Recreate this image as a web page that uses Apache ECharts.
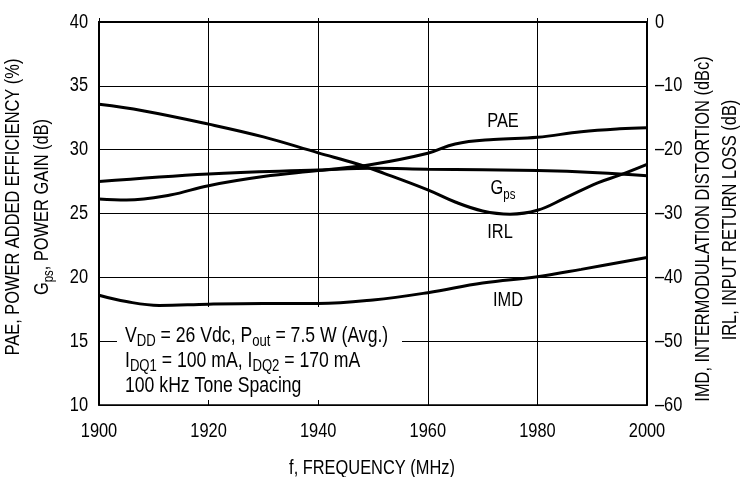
<!DOCTYPE html>
<html>
<head>
<meta charset="utf-8">
<script src="https://cdn.jsdelivr.net/npm/echarts/dist/echarts.min.js"></script>
<style>
html,body{margin:0;padding:0;background:#fff;}
#c{width:744px;height:477px;}
</style>
</head>
<body>
<div id="c"></div>
<script>
// Tick labels
const freqTicks = [1900, 1920, 1940, 1960, 1980, 2000];
const leftTicks = [10, 15, 20, 25, 30, 35, 40];
const rightTicks = [-60, -50, -40, -30, -20, -10, 0];

// PAE, power added efficiency (%) - left axis
const paeFreq = [1900, 1905, 1913, 1920, 1930, 1940, 1950, 1960, 1965, 1972, 1980, 1988, 1995, 2000];
const paeVal  = [26.14, 26.06, 26.45, 27.18, 27.89, 28.36, 28.86, 29.72, 30.45, 30.8, 30.97, 31.41, 31.64, 31.72];

// Gps, power gain (dB) - left axis
const gpsFreq = [1900, 1920, 1940, 1950, 1960, 1980, 1991, 2000];
const gpsVal  = [27.5, 28.1, 28.4, 28.54, 28.47, 28.36, 28.2, 27.96];

// IRL, input return loss (dB) - right axis
const irlFreq = [1900, 1908, 1920, 1930, 1940, 1947, 1952, 1960, 1965, 1970, 1975, 1980, 1985, 1991, 1995, 2000];
const irlVal  = [-12.9, -13.9, -16.0, -18.0, -20.5, -22.2, -23.7, -26.3, -28.2, -29.6, -30.1, -29.5, -27.6, -25.2, -24.0, -22.3];

// IMD, intermodulation distortion (dBc) - right axis
const imdFreq = [1900, 1905, 1911, 1920, 1930, 1940, 1950, 1960, 1970, 1980, 1988, 2000];
const imdVal  = [-42.8, -43.8, -44.4, -44.2, -44.1, -44.1, -43.55, -42.4, -40.9, -39.9, -38.75, -36.9];

const FONT = '"Liberation Sans", Arial, Helvetica, sans-serif';
const FS = 20;
const NARROW = 0.82;

function pairs(xs, ys) { return xs.map((x, i) => [x, ys[i]]); }

const chart = echarts.init(document.getElementById('c'), null, {renderer: 'canvas'});

function curve(name, xs, ys, yIdx) {
  return {
    name: name, type: 'line', yAxisIndex: yIdx, data: pairs(xs, ys),
    smooth: 0.4, showSymbol: false, symbol: 'none', silent: true, z: 4,
    lineStyle: {color: '#000', width: 3}
  };
}

function txt(x, y, text, opts) {
  opts = opts || {};
  const fs = opts.fontSize || FS;
  const sub = opts.subSize || 14;
  return {
    type: 'text', x: x, y: y, rotation: opts.rotation || 0, scaleX: NARROW, scaleY: 1,
    z: 10, silent: true,
    style: {
      text: text, fill: '#000', fontSize: fs, fontFamily: FONT,
      lineHeight: 28,
      align: opts.align || 'center', verticalAlign: 'middle',
      textAlign: opts.align || 'center', textVerticalAlign: 'middle',
      rich: {s: {fontSize: sub, lineHeight: 14, verticalAlign: 'bottom', fontFamily: FONT, fill: '#000'}}
    }
  };
}

const option = {
  animation: false,
  backgroundColor: '#fff',
  grid: {left: 99, right: 97, top: 22, bottom: 72, show: true, borderColor: '#000', borderWidth: 1.5, backgroundColor: 'transparent'},
  xAxis: {
    type: 'value', min: freqTicks[0], max: freqTicks[freqTicks.length - 1], interval: 20,
    axisLine: {show: true, lineStyle: {color: '#000', width: 2}},
    axisTick: {show: true, inside: true, length: 4, lineStyle: {color: '#000', width: 1}},
    splitLine: {show: true, lineStyle: {color: '#000', width: 1}},
    axisLabel: {show: false}
  },
  yAxis: [
    {
      type: 'value', position: 'left', min: leftTicks[0], max: leftTicks[leftTicks.length - 1], interval: 5,
      axisLine: {show: true, lineStyle: {color: '#000', width: 2}},
      axisTick: {show: false},
      splitLine: {show: true, lineStyle: {color: '#000', width: 1}},
      axisLabel: {show: false}
    },
    {
      type: 'value', position: 'right', min: rightTicks[0], max: rightTicks[rightTicks.length - 1], interval: 10,
      axisLine: {show: true, lineStyle: {color: '#000', width: 2}},
      axisTick: {show: false},
      splitLine: {show: false},
      axisLabel: {show: false}
    }
  ],
  series: [
    curve('PAE', paeFreq, paeVal, 0),
    curve('Gps', gpsFreq, gpsVal, 0),
    curve('IRL', irlFreq, irlVal, 1),
    curve('IMD', imdFreq, imdVal, 1)
  ]
};
chart.setOption(option);

// Tick labels placed through the chart's own axis scales
const gr = [];
gr.push({type: 'rect', z: 1, silent: true, shape: {x: 117, y: 307, width: 285, height: 93}, style: {fill: '#fff', stroke: null}});
freqTicks.forEach(f => {
  const px = chart.convertToPixel({xAxisIndex: 0}, f);
  gr.push(txt(px, 431, String(f)));
});
leftTicks.forEach(v => {
  const py = chart.convertToPixel({yAxisIndex: 0}, v);
  gr.push(txt(88, py, String(v), {align: 'right'}));
});
rightTicks.forEach(v => {
  const py = chart.convertToPixel({yAxisIndex: 1}, v);
  gr.push(txt(655, py, v < 0 ? '\u2013' + (-v) : String(v), {align: 'left'}));
});
const ann = {align: 'left', fontSize: 21.5, subSize: 16};
gr.push(
  txt(125, 336, 'V{s|DD} = 26 Vdc, P{s|out} = 7.5 W (Avg.)', ann),
  txt(125, 361, 'I{s|DQ1} = 100 mA, I{s|DQ2} = 170 mA', ann),
  txt(125, 386, '100 kHz Tone Spacing', ann),
  txt(503, 121, 'PAE'),
  txt(503, 188, 'G{s|ps}'),
  txt(500, 232, 'IRL'),
  txt(508, 300, 'IMD'),
  txt(372, 468, 'f, FREQUENCY (MHz)'),
  txt(13, 207, 'PAE, POWER ADDED EFFICIENCY (%)', {rotation: Math.PI / 2}),
  txt(42, 207, 'G{s|ps}, POWER GAIN (dB)', {rotation: Math.PI / 2}),
  txt(703, 229, 'IMD, INTERMODULATION DISTORTION (dBc)', {rotation: Math.PI / 2}),
  txt(730, 220, 'IRL, INPUT RETURN LOSS (dB)', {rotation: Math.PI / 2})
);
chart.setOption({graphic: gr});
</script>
</body>
</html>
